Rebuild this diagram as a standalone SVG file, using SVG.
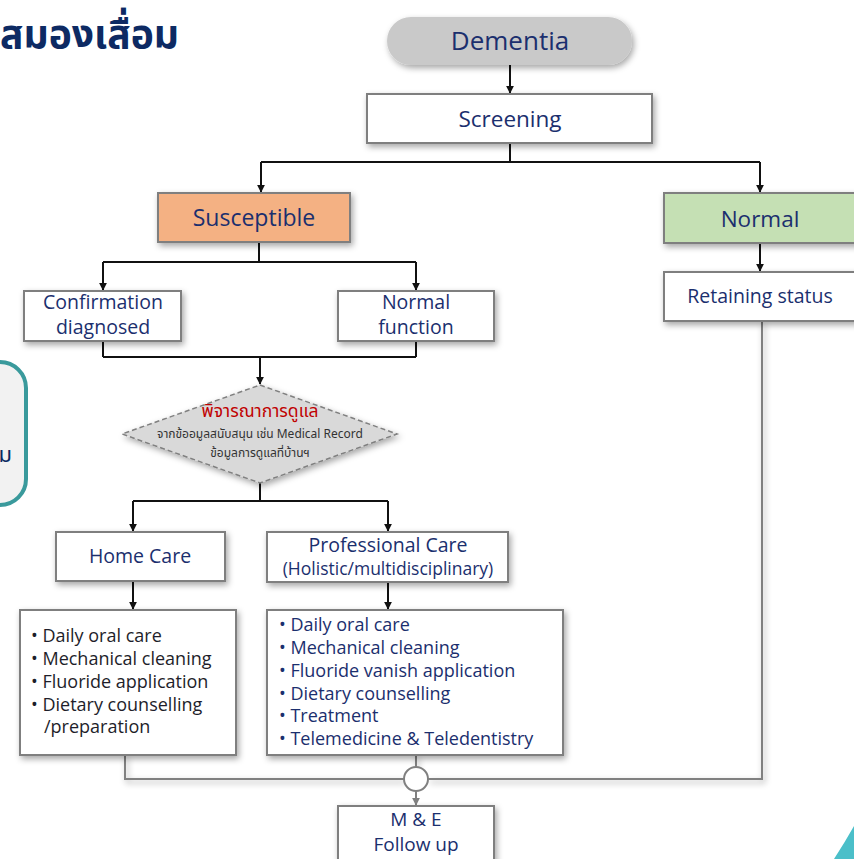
<svg xmlns="http://www.w3.org/2000/svg" width="854" height="859" viewBox="0 0 854 859">
<defs>
<filter id="sh" x="-20%" y="-30%" width="140%" height="160%">
<feDropShadow dx="2" dy="3" stdDeviation="3" flood-color="#000" flood-opacity="0.35"/>
</filter>
<marker id="ah" viewBox="0 0 10 10" refX="9" refY="5" markerWidth="4" markerHeight="4" orient="auto">
<path d="M0,0 L10,5 L0,10 z" fill="#111"/>
</marker>
<marker id="ahg" viewBox="0 0 10 10" refX="9" refY="5" markerWidth="4" markerHeight="4" orient="auto">
<path d="M0,0 L10,5 L0,10 z" fill="#7f7f7f"/>
</marker>
</defs>
<style>
.box{fill:#fff;stroke:#7f7f7f;stroke-width:2;filter:url(#sh)}
.t{font-family:"Open Sans","Noto Sans","Liberation Sans",sans-serif;fill:#1b2f6e;text-anchor:middle}
.l{font-family:"Open Sans","Noto Sans","Liberation Sans",sans-serif;font-size:18px}
.th{font-family:"Noto Sans Thai","Noto Sans","Liberation Sans",sans-serif;text-anchor:middle}
.c{fill:none;stroke:#111;stroke-width:2}
.g{fill:none;stroke:#808080;stroke-width:2}
</style>
<rect width="854" height="859" fill="#fff"/>
<text x="0" y="48" font-family="'Noto Sans Thai','Noto Sans','Liberation Sans',sans-serif" font-size="39" font-weight="bold" fill="#0d2a63">สมองเสื่อม</text>
<g id="sidebox">
<rect x="-30" y="362" width="56" height="143" rx="26" fill="#f2f2f2" stroke="#3a9a9c" stroke-width="4"/>
<text x="12" y="462" font-family="'Noto Sans Thai','Noto Sans',sans-serif" font-size="22" fill="#0d2a63" text-anchor="end">ม</text>
</g>
<path d="M834,859 Q845,842 854,826 L854,859 z" fill="#4bbfc9"/>
<g id="connectors">
<path class="c" d="M510,65 V93" marker-end="url(#ah)"/>
<path class="c" d="M510,143 V162 M261,162 H760"/>
<path class="c" d="M261,162 V192" marker-end="url(#ah)"/>
<path class="c" d="M760,162 V192" marker-end="url(#ah)"/>
<path class="c" d="M259,242 V262 M103,262 H416"/>
<path class="c" d="M103,262 V290" marker-end="url(#ah)"/>
<path class="c" d="M416,262 V290" marker-end="url(#ah)"/>
<path class="c" d="M760,243 V271" marker-end="url(#ah)"/>
<path class="c" d="M103,341 V357 M416,341 V357 M103,357 H416"/>
<path class="c" d="M260,357 V384" marker-end="url(#ah)"/>
<path class="c" d="M260,483 V501 M133,501 H388"/>
<path class="c" d="M133,501 V531" marker-end="url(#ah)"/>
<path class="c" d="M388,501 V531" marker-end="url(#ah)"/>
<path class="c" d="M133,581 V609" marker-end="url(#ah)"/>
<path class="c" d="M388,582 V609" marker-end="url(#ah)"/>
<path class="g" d="M762,321 V779 H428 M404,779 H125 V755 M416,755 V767" filter="url(#sh)"/>
<path class="g" d="M416,791 V805" marker-end="url(#ahg)"/>
</g>
<g id="dementia">
<rect x="387" y="17" width="245" height="48" rx="24" fill="#c9c9c9" filter="url(#sh)"/>
<text class="t" x="510" y="50" font-size="26">Dementia</text>
</g>
<g id="screening">
<rect class="box" x="367" y="94" width="285" height="49"/>
<text class="t" x="510" y="127" font-size="22.5">Screening</text>
</g>
<g id="susceptible">
<rect class="box" x="158" y="193" width="192" height="49" style="fill:#f4b183"/>
<text class="t" x="254" y="226" font-size="23">Susceptible</text>
</g>
<g id="normal">
<rect class="box" x="664" y="193" width="200" height="50" style="fill:#c5e0b4"/>
<text class="t" x="760" y="227" font-size="22.5">Normal</text>
</g>
<g id="retaining">
<rect class="box" x="664" y="272" width="200" height="49"/>
<text class="t" x="760" y="303" font-size="19.5">Retaining status</text>
</g>
<g id="confirmation">
<rect class="box" x="24" y="291" width="157" height="50"/>
<text class="t" x="103" y="309" font-size="19.5">Confirmation</text>
<text class="t" x="103" y="334" font-size="19.5">diagnosed</text>
</g>
<g id="normalfunction">
<rect class="box" x="338" y="291" width="156" height="50"/>
<text class="t" x="416" y="309" font-size="19.5">Normal</text>
<text class="t" x="416" y="334" font-size="19.5">function</text>
</g>
<g id="decision">
<path d="M260,385 L397,434 L260,483 L122,434 z" fill="#d9d9d9" stroke="#808080" stroke-width="1.5" stroke-dasharray="5,3" filter="url(#sh)"/>
<text class="th" x="260" y="417" font-size="17.5" fill="#c00000">พิจารณาการดูแล</text>
<text class="th" x="260" y="438" font-size="12" fill="#333">จากข้ออมูลสนับสนุน เช่น  Medical Record</text>
<text class="th" x="260" y="457" font-size="12" fill="#333">ข้อมูลการดูแลที่บ้านฯ</text>
</g>
<g id="homecare">
<rect class="box" x="56" y="532" width="169" height="49"/>
<text class="t" x="140" y="563" font-size="19.5">Home Care</text>
</g>
<g id="professional">
<rect class="box" x="267" y="532" width="241" height="50"/>
<text class="t" x="388" y="552" font-size="19.5">Professional Care</text>
<text class="t" x="388" y="575" font-size="17.5">(Holistic/multidisciplinary)</text>
</g>
<g id="homelist">
<rect class="box" x="20" y="610" width="216" height="145"/>
<g class="l" fill="#1e1e2a">
<text x="31" y="642">• Daily oral care</text>
<text x="31" y="665">• Mechanical cleaning</text>
<text x="31" y="688">• Fluoride application</text>
<text x="31" y="711">• Dietary counselling</text>
<text x="44" y="733">/preparation</text>
</g>
</g>
<g id="prolist">
<rect class="box" x="267" y="610" width="296" height="145"/>
<g class="l" fill="#1b2f6e">
<text x="279" y="631">• Daily oral care</text>
<text x="279" y="654">• Mechanical cleaning</text>
<text x="279" y="677">• Fluoride vanish application</text>
<text x="279" y="700">• Dietary counselling</text>
<text x="279" y="722">• Treatment</text>
<text x="279" y="745">• Telemedicine &amp; Teledentistry</text>
</g>
</g>
<g id="merge">
<circle cx="416" cy="779" r="12" fill="#fff" stroke="#808080" stroke-width="2"/>
</g>
<g id="me">
<rect class="box" x="338" y="806" width="156" height="60"/>
<text class="t" x="416" y="826" font-size="19">M &amp; E</text>
<text class="t" x="416" y="851" font-size="19">Follow up</text>
</g>
</svg>
